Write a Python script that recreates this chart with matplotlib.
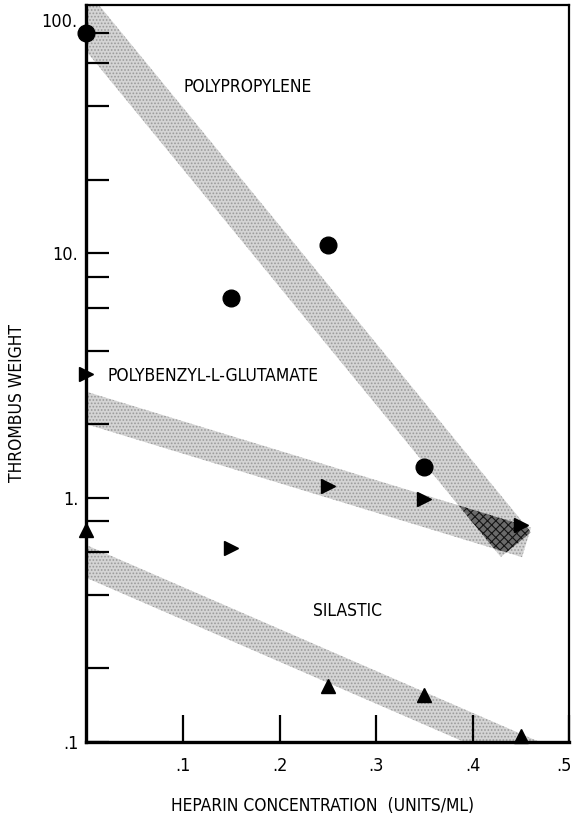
import matplotlib
matplotlib.use("Agg")
import matplotlib.pyplot as plt
import numpy as np
from matplotlib import font_manager
from matplotlib.patches import Polygon
from matplotlib.ticker import NullFormatter

# --- thrombus weight vs heparin concentration --- #
pp_x = [0.0, 0.15, 0.25, 0.35]
pp_y = [80.0, 6.6, 10.8, 1.34]

pblg_x = [0.0, 0.15, 0.25, 0.35, 0.45]
pblg_y = [3.2, 0.62, 1.12, 0.99, 0.77]

sil_x = [0.0, 0.25, 0.35, 0.45]
sil_y = [0.74, 0.17, 0.156, 0.106]

# trend bands: weight at zero heparin, decades per unit heparin, last x
pp_band = (89.7, -4.82, 0.445)
pblg_band = (2.33, -1.206, 0.456)
sil_band = (0.548, -1.716, 0.56)

x_ticks = [0.1, 0.2, 0.3, 0.4, 0.5]
x_tick_labels = [".1", ".2", ".3", ".4", ""]
y_ticks = [0.1, 1, 10]
y_tick_labels = [".1", "1.", "10."]
y_minor = [0.2, 0.4, 0.6, 0.8, 2, 4, 6, 8, 20, 40, 60, 80]

# condensed sans if available
names = {f.name for f in font_manager.fontManager.ttflist}
if "Liberation Sans Narrow" in names:
    plt.rcParams["font.family"] = "Liberation Sans Narrow"
else:
    plt.rcParams["font.family"] = "DejaVu Sans"
    plt.rcParams["font.stretch"] = "condensed"
plt.rcParams["hatch.linewidth"] = 0.8

fig = plt.figure(figsize=(5.75, 8.18), dpi=100)
ax = fig.add_axes([86.5 / 575, 76 / 818, 482.5 / 575, 737 / 818])
ax.set_yscale("log")
ax.set_xlim(0, 0.5)
ax.set_ylim(0.1, 104)


def band(ax, params, width_px, **kw):
    y0, slope, x_end = params
    xs = np.array([-0.1, x_end])
    ys = y0 * 10 ** (slope * xs)
    p = ax.transData.transform(np.column_stack([xs, ys]))
    d = p[1] - p[0]
    d = d / np.hypot(*d)
    n = np.array([-d[1], d[0]]) * width_px / 2
    corners = np.array([p[0] + n, p[1] + n, p[1] - n, p[0] - n])
    patch = Polygon(ax.transData.inverted().transform(corners), closed=True, **kw)
    ax.add_patch(patch)
    return patch


stipple = dict(facecolor="#d4d4d4", edgecolor="#9a9a9a", linewidth=0, hatch=".....", zorder=1)
band(ax, pp_band, 39, **stipple)
pb = band(ax, pblg_band, 31, **stipple)
band(ax, sil_band, 30, **stipple)

# darker cross-hatch where the two upper bands overlap
ov = band(ax, pp_band, 39, facecolor="#6a6a6a", edgecolor="#151515",
          linewidth=0, hatch="xxxx", zorder=1.5)
ov.set_clip_path(pb)

ax.plot(pp_x, pp_y, "o", color="black", markersize=12, clip_on=False, zorder=4)
ax.plot(pblg_x, pblg_y, ">", color="black", markersize=10, clip_on=False, zorder=4)
ax.plot(sil_x, sil_y, "^", color="black", markersize=10, clip_on=False, zorder=4)

ax.text(0.167, 48, "POLYPROPYLENE", fontsize=12.5, ha="center", va="center")
ax.text(0.022, 3.15, "POLYBENZYL-L-GLUTAMATE", fontsize=12.5, ha="left", va="center")
ax.text(0.27, 0.343, "SILASTIC", fontsize=12.5, ha="center", va="center")

ax.set_xticks(x_ticks, x_tick_labels)
ax.set_yticks(y_ticks, y_tick_labels)
ax.set_yticks(y_minor, minor=True)
ax.yaxis.set_minor_formatter(NullFormatter())
ax.tick_params(axis="y", which="both", direction="in", length=16.5, width=1.6,
               labelsize=13, pad=6)
ax.tick_params(axis="x", which="both", direction="in", length=19.5, width=1.6,
               labelsize=13, pad=11)
ax.text(-0.018, 88.5, "100.", transform=ax.get_yaxis_transform(), fontsize=13,
        ha="right", va="center")
# last x label sits at the right spine, nudged inside the figure
ax.annotate(".5", xy=(0.5, 0), xycoords=("data", "axes fraction"),
            xytext=(-3.5, -11), textcoords="offset points",
            ha="center", va="top", fontsize=13)

for side, lw in [("left", 2.4), ("bottom", 2.4), ("top", 1.6), ("right", 1.6)]:
    ax.spines[side].set_linewidth(lw)

fig.text(17 / 575, 1 - 403 / 818, "THROMBUS WEIGHT", rotation=90, fontsize=12.5,
         ha="center", va="center")
fig.text(323 / 575, 1 - 806 / 818, "HEPARIN CONCENTRATION  (UNITS/ML)", fontsize=12.5,
         ha="center", va="center")

fig.savefig("out.png", dpi=100)
